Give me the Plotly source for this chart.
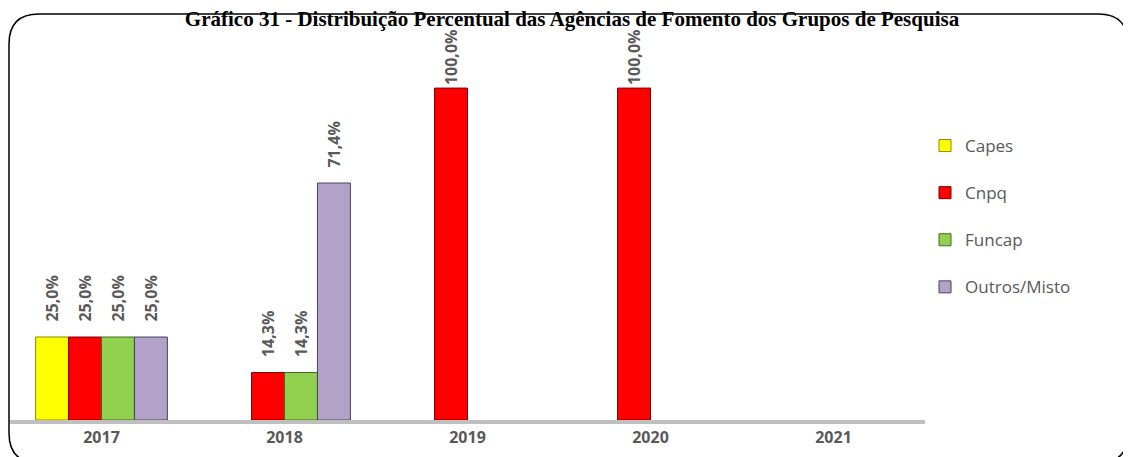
import plotly.graph_objects as go

anos = ["2017", "2018", "2019", "2020", "2021"]
capes = [25.0, None, None, None, None]
cnpq = [25.0, 14.3, 100.0, 100.0, None]
funcap = [25.0, 14.3, None, None, None]
outros = [25.0, 71.4, None, None, None]

series = [
    ("Capes", capes, "#FFFF00", "#8a8a00"),
    ("Cnpq", cnpq, "#FF0000", "#7a0000"),
    ("Funcap", funcap, "#92D050", "#3f6b1e"),
    ("Outros/Misto", outros, "#B3A2C7", "#4b4060"),
]

# a página tem 8px de margem no body
OFF = 8
W, H = 1131 - OFF, 457 - OFF
ML, MR, MT, MB = 10 - OFF, 206, 30 - OFF, 37
PW, PH = W - ML - MR, H - MT - MB

def px(x):
    return (x - OFF - ML) / PW

def py(y):
    return 1 - (y - OFF - MT) / PH

def rotulos(vals):
    out = []
    for v in vals:
        if v is None:
            out.append("")
        else:
            pad = "" if v >= 100 else "\u00a0\u00a0\u00a0"
            out.append(pad + f"{v:.1f}%".replace(".", ","))
    return out

fig = go.Figure()
for i, (name, vals, cor, borda) in enumerate(series):
    fig.add_bar(
        x=anos, y=vals, name=name, legendgroup=str(i),
        marker=dict(color=cor, line=dict(color=borda, width=1)),
        text=rotulos(vals), textposition="outside", textangle=-90,
        constraintext="none",
        textfont=dict(family="Open Sans", size=16, color="#595959", weight="bold"),
        cliponaxis=False,
    )

# moldura arredondada
x0, x1, y0, y1, r = px(9), px(1128), py(14), py(463), 30
rx, ry = r / PW, r / PH
path = (f"M {x0+rx},{y0} L {x1-rx},{y0} Q {x1},{y0} {x1},{y0-ry} "
        f"L {x1},{y1+ry} Q {x1},{y1} {x1-rx},{y1} L {x0+rx},{y1} "
        f"Q {x0},{y1} {x0},{y1+ry} L {x0},{y0-ry} Q {x0},{y0} {x0+rx},{y0} Z")
fig.add_shape(type="path", path=path, xref="paper", yref="paper",
              line=dict(color="black", width=1.5), layer="below")

fig.update_layout(
    width=W, height=H,
    margin=dict(l=ML, r=MR, t=MT, b=MB),
    plot_bgcolor="white", paper_bgcolor="white",
    barmode="group", bargap=0.28, bargroupgap=0,
    title=dict(
        text="<b>Gráfico 31 - Distribuição Percentual das Agências de Fomento dos Grupos de Pesquisa</b>",
        x=(572 - OFF) / W, xanchor="center", xref="container",
        y=1 - 3 / H, yanchor="top", yref="container", pad=dict(t=0, b=0),
        font=dict(family="Liberation Serif", size=21, color="black"),
    ),
    xaxis=dict(
        showline=True, linecolor="#BFBFBF", linewidth=4, ticks="",
        tickfont=dict(family="Open Sans", size=16, color="#595959", weight="bold"),
        showgrid=False,
    ),
    yaxis=dict(range=[0, 117.5], visible=False, showgrid=False),
    legend=dict(
        x=px(925), y=py(128), xanchor="left", yanchor="top",
        font=dict(family="Open Sans", size=17, color="#595959"),
        tracegroupgap=22, itemwidth=30,
    ),
    showlegend=True,
)

fig.write_html("out.html")
